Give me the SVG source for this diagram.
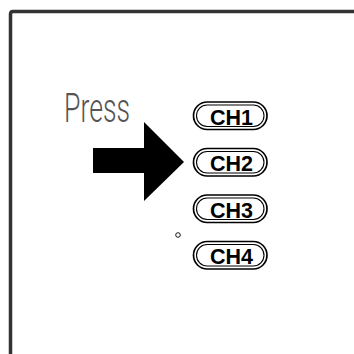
<svg xmlns="http://www.w3.org/2000/svg" width="354" height="354" viewBox="0 0 354 354">
<style>
.btn-o{fill:#fff;stroke:#000;stroke-width:1.7}
.btn-i{fill:none;stroke:#000;stroke-width:1.1}
.lbl{font-family:"Liberation Sans",Arial,sans-serif;font-weight:bold;font-size:22px;fill:#000;text-anchor:middle}
</style>
<rect width="354" height="354" fill="#fff"/>
<path d="M10.5 356 V14 Q10.5 11.5 13 11.5 H356" fill="none" stroke="#333" stroke-width="3.5"/>
<g id="press">
<text x="64" y="122" font-family="Roboto,sans-serif" font-weight="300" font-size="40" fill="#555" textLength="66" lengthAdjust="spacingAndGlyphs">Press</text>
</g>
<g id="arrow">
<polygon points="93,148 144,148 144,122 184,162 144,201 144,173 93,173" fill="#000"/>
</g>
<g id="dot"><circle cx="178" cy="235" r="2.3" fill="none" stroke="#000" stroke-width="0.9"/></g>
<g id="ch1">
<rect class="btn-o" x="193.5" y="102" width="73.5" height="27.5" rx="13.7"/>
<rect class="btn-i" x="196.5" y="105" width="67.5" height="21.5" rx="10.7"/>
<text class="lbl" x="231.5" y="124.5" textLength="43" lengthAdjust="spacingAndGlyphs">CH1</text>
</g>
<g id="ch2">
<rect class="btn-o" x="193.5" y="148.5" width="73.5" height="27.5" rx="13.7"/>
<rect class="btn-i" x="196.5" y="151.5" width="67.5" height="21.5" rx="10.7"/>
<text class="lbl" x="231.5" y="171" textLength="43" lengthAdjust="spacingAndGlyphs">CH2</text>
</g>
<g id="ch3">
<rect class="btn-o" x="193.5" y="195" width="73.5" height="27.5" rx="13.7"/>
<rect class="btn-i" x="196.5" y="198" width="67.5" height="21.5" rx="10.7"/>
<text class="lbl" x="231.5" y="217.5" textLength="43" lengthAdjust="spacingAndGlyphs">CH3</text>
</g>
<g id="ch4">
<rect class="btn-o" x="193.5" y="241.5" width="73.5" height="27.5" rx="13.7"/>
<rect class="btn-i" x="196.5" y="244.5" width="67.5" height="21.5" rx="10.7"/>
<text class="lbl" x="231.5" y="264" textLength="43" lengthAdjust="spacingAndGlyphs">CH4</text>
</g>
</svg>
